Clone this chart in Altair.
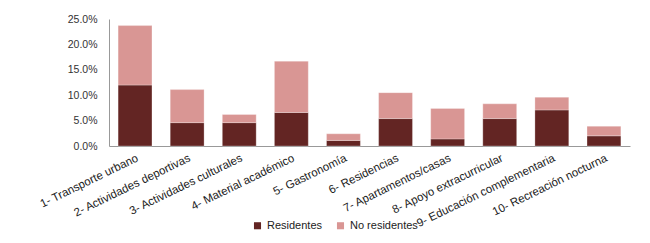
import altair as alt
import pandas as pd

categories = ["1- Transporte urbano", "2- Actividades deportivas", "3- Actividades culturales",
              "4- Material académico", "5- Gastronomía", "6- Residencias",
              "7- Apartamentos/casas", "8- Apoyo extracurricular",
              "9- Educación complementaria", "10- Recreación nocturna"]
residentes = [0.120, 0.046, 0.046, 0.066, 0.011, 0.054, 0.014, 0.054, 0.071, 0.020]
no_residentes = [0.117, 0.065, 0.016, 0.101, 0.013, 0.051, 0.060, 0.029, 0.025, 0.019]
series = ["Residentes", "No residentes"]
colors = ["#632523", "#D99694"]

rows = []
for c, r, n in zip(categories, residentes, no_residentes):
    rows.append({"cat": c, "serie": series[0], "val": r, "ord": 0})
    rows.append({"cat": c, "serie": series[1], "val": n, "ord": 1})
df = pd.DataFrame(rows)

font = "Liberation Sans"

chart = alt.Chart(df).mark_bar(stroke="#ffffff", strokeOpacity=0.35, strokeWidth=0.8).encode(
    x=alt.X("cat:N", sort=categories, title=None,
            scale=alt.Scale(paddingInner=0.35, paddingOuter=0.175),
            axis=alt.Axis(labelAngle=-26, labelFont=font, labelFontSize=11.5, labelColor="#222222",
                          ticks=False, domainColor="#999999", labelPadding=6, labelLimit=300)),
    y=alt.Y("val:Q", stack="zero", title=None,
            scale=alt.Scale(domain=[0, 0.25]),
            axis=alt.Axis(format=".1%", values=[0, 0.05, 0.10, 0.15, 0.20, 0.25], grid=False,
                          ticks=False, domainColor="#999999", labelFont=font, labelFontSize=10.5,
                          labelColor="#333333", labelPadding=12)),
    color=alt.Color("serie:N", sort=series,
                    scale=alt.Scale(domain=series, range=colors),
                    legend=alt.Legend(title=None, orient="none", direction="horizontal",
                                      legendX=143, legendY=201, symbolType="square",
                                      symbolSize=50, symbolStrokeWidth=0, labelFont=font,
                                      labelFontSize=11, labelColor="#222222",
                                      columnPadding=12, symbolOffset=0)),
    order=alt.Order("ord:Q", sort="ascending"),
).properties(
    width=521, height=127,
    autosize=alt.AutoSizeParams(type="none"),
    padding={"left": 101, "top": 11, "right": 10, "bottom": 89},
).configure_view(stroke=None)

chart.save("out.html", embed_options={"renderer": "svg", "actions": False})
